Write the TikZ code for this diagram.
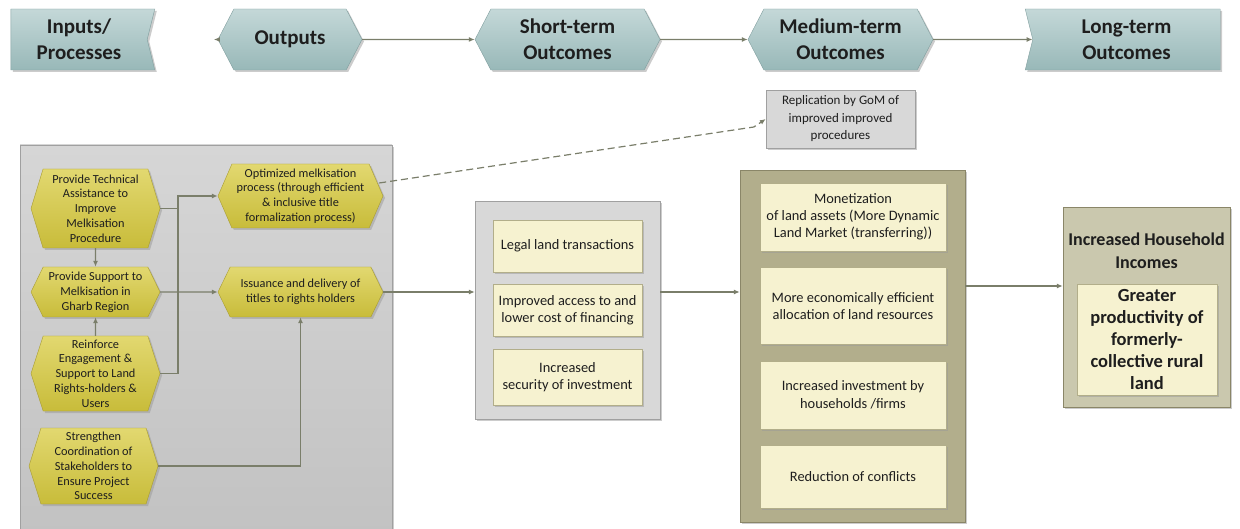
\documentclass[tikz,border=0pt]{standalone}
\usepackage{fontspec}
\setmainfont{Carlito}
\usetikzlibrary{positioning,shapes.symbols,shadows,arrows.meta}

\definecolor{hdrtop}{RGB}{196,216,216}
\definecolor{hdrbot}{RGB}{152,184,184}
\definecolor{hdrline}{RGB}{128,158,158}
\definecolor{hextop}{RGB}{226,216,112}
\definecolor{hexbot}{RGB}{200,188,58}
\definecolor{hexline}{RGB}{168,156,48}
\definecolor{pantop}{RGB}{214,214,214}
\definecolor{panbot}{RGB}{194,194,194}
\definecolor{panline}{RGB}{160,160,160}
\definecolor{cream}{RGB}{246,242,208}
\definecolor{creamline}{RGB}{178,174,138}
\definecolor{olive}{RGB}{178,174,140}
\definecolor{oliveline}{RGB}{138,134,104}
\definecolor{olivelight}{RGB}{202,200,174}
\definecolor{arrowgray}{RGB}{122,126,106}
\definecolor{ink}{RGB}{30,30,30}

\begin{document}
\begin{tikzpicture}[x=1pt,y=-1pt,
    shadowed/.style={drop shadow={shadow xshift=2pt,shadow yshift=-2pt,fill=black!40}},
    phase/.style={signal, signal to=west and east, signal pointer angle=125,
      draw=hdrline, top color=hdrtop, bottom color=hdrbot, minimum height=61pt,
      inner sep=0pt, align=center, text=ink, shadowed,
      font=\fontsize{21}{26}\selectfont\bfseries},
    phasein/.style={phase, signal to=nowhere, signal from=#1, signal pointer angle=152},
    act/.style={signal, signal to=west and east, signal pointer angle=#1,
      draw=hexline, top color=hextop, bottom color=hexbot, inner sep=0pt,
      align=center, text=ink, shadowed, font=\fontsize{12.3}{14.8}\selectfont},
    panel/.style={rectangle, draw=panline, fill=pantop, shadowed},
    outbox/.style={rectangle, draw=creamline, fill=cream, inner sep=2pt,
      align=center, text=ink, shadowed, font=\fontsize{14.4}{17.2}\selectfont},
    line/.style={draw=arrowgray, line width=1.2pt},
    arr/.style={line, -{Latex[length=6pt,width=5pt]}}]

  \useasboundingbox (0,0) rectangle (1240,529);
  \clip (0,0) rectangle (1240,529);

  % results chain header
  \node[phasein=east] (inputs) at (79,39.5) [minimum width=144pt] {Inputs/\\Processes};
  \node[phase] (outputs) at (290,39.5) [minimum width=144pt] {Outputs};
  \node[phase] (shortt) at (567.5,39.5) [minimum width=185pt] {Short-term\\Outcomes};
  \node[phase] (medt) at (840.5,39.5) [minimum width=185pt] {Medium-term\\Outcomes};
  \node[phasein=west] (longt) at (1126.5,39.5) [minimum width=195pt] {Long-term\\Outcomes};

  \draw[arr] (outputs.west) -- ++(-4,0);
  \draw[arr] (outputs) -- (shortt);
  \draw[arr] (shortt) -- (medt);
  \draw[arr] (medt) -- (longt);

  % panels
  \node[panel, top color=pantop, bottom color=panbot] (inpanel) at (206,340)
    [minimum width=372pt, minimum height=390pt] {};
  \node[panel, fill=pantop!95!white] (shortpanel) at (567.5,310)
    [minimum width=185pt, minimum height=218pt] {};
  \node[panel, draw=oliveline, fill=olive] (medpanel) at (852.5,346)
    [minimum width=225pt, minimum height=352pt] {};
  \node[panel, draw=oliveline, fill=olivelight] (longpanel) at (1146.5,307)
    [minimum width=167pt, minimum height=200pt] {};
  \node[panel, fill=pantop!95!white, align=center, text=ink,
    font=\fontsize{13}{17.5}\selectfont] (repl) at (840.5,119)
    [minimum width=149pt, minimum height=58pt] {Replication by GoM of\\improved improved\\procedures};

  % inputs and outputs
  \node[act=146] (tech) at (95.5,208.5) [minimum width=129pt, minimum height=79pt]
    {Provide Technical\\Assistance to\\Improve\\Melkisation\\Procedure};
  \node[act=128] (support) at (95.5,292) [minimum width=129pt, minimum height=50pt]
    {Provide Support to\\Melkisation in\\Gharb Region};
  \node[act=144] (reinforce) at (95.5,373.5) [minimum width=129pt, minimum height=75pt]
    {Reinforce\\Engagement \&\\Support to Land\\Rights-holders \&\\Users};
  \node[act=145] (strengthen) at (93.5,466) [minimum width=129pt, minimum height=76pt]
    {Strengthen\\Coordination of\\Stakeholders to\\Ensure Project\\Success};
  \node[act=133] (optim) at (300.5,196) [minimum width=165pt, minimum height=64pt]
    {Optimized melkisation\\process (through efficient\\\& inclusive title\\formalization process)};
  \node[act=128] (issue) at (300.5,292) [minimum width=165pt, minimum height=50pt]
    {Issuance and delivery of\\titles to rights holders};

  % short-term outcomes
  \node[outbox] (legal) at (567.5,246) [minimum width=149pt, minimum height=52pt]
    {Legal land transactions};
  \node[outbox, below=12pt of legal] (finance) [minimum width=149pt, minimum height=52pt]
    {Improved access to and\\lower cost of financing};
  \node[outbox, below=12pt of finance] (secure) [minimum width=149pt, minimum height=56pt]
    {Increased\\security of investment};

  % medium-term outcomes
  \node[outbox] (monet) at (853,217) [minimum width=186pt, minimum height=68pt]
    {Monetization\\of land assets (More Dynamic\\Land Market (transferring))};
  \node[outbox, below=16pt of monet] (alloc) [minimum width=186pt, minimum height=77pt]
    {More economically efficient\\allocation of land resources};
  \node[outbox, below=16pt of alloc] (invest) [minimum width=186pt, minimum height=68pt]
    {Increased investment by\\households /firms};
  \node[outbox, below=16pt of invest] (conflict) [minimum width=186pt, minimum height=63pt]
    {Reduction of conflicts};

  % long-term outcome
  \node[text=ink, align=center, font=\fontsize{18}{22.5}\selectfont\bfseries]
    (incomes) at (1146.5,251) {Increased Household\\Incomes};
  \node[outbox, font=\fontsize{18.5}{22}\selectfont\bfseries] (longin) at (1147,339.5)
    [minimum width=140pt, minimum height=111pt]
    {Greater\\productivity of\\formerly-\\collective rural\\land};

  % connectors
  \coordinate (jn) at (178,196);
  \coordinate (lv) at (0,286);
  \draw[arr] (tech) -- (support);
  \draw[arr] (reinforce) -- (support);
  \draw[line] (tech.east) -- (tech.east -| jn);
  \draw[arr] (reinforce.east) -| (jn) -- (optim.west);
  \draw[arr] (support) -- (issue);
  \draw[arr] (strengthen.east) -| (issue.south);
  \draw[arr] (issue.east) -- (issue.east -| shortpanel.west);
  \draw[arr] (shortpanel.east |- issue.east) -- (medpanel.west |- issue.east);
  \draw[arr] (medpanel.east |- lv) -- (longpanel.west |- lv);
  \draw[arr, dash pattern=on 7pt off 4pt] ([xshift=-4pt,yshift=13pt]optim.east)
    -- ([xshift=-12pt,yshift=-8pt]repl.west) -- (repl.west);
\end{tikzpicture}
\end{document}
